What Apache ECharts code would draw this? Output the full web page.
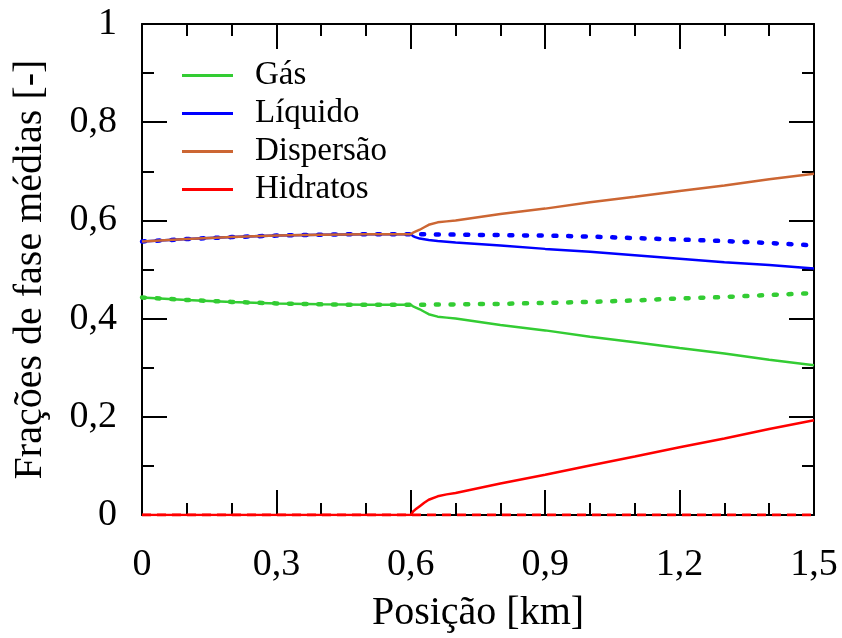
<!DOCTYPE html>
<html>
<head>
<meta charset="utf-8">
<script src="https://cdn.jsdelivr.net/npm/echarts@6/dist/echarts.min.js"></script>
<style>
html,body{margin:0;padding:0;background:#fff;}
#chart{width:842px;height:638px;}
</style>
</head>
<body>
<div id="chart"></div>
<script>
// Position along the line [km]
const posicao = [0, 0.1, 0.2, 0.3, 0.4, 0.5, 0.6, 0.605, 0.61, 0.62, 0.63, 0.64, 0.66, 0.68, 0.7, 0.8, 0.9, 1.0, 1.1, 1.2, 1.3, 1.4, 1.5];
// With hydrate formation (solid lines)
const gas       = [0.443, 0.438, 0.434, 0.431, 0.429, 0.428, 0.428, 0.425, 0.423, 0.419, 0.414, 0.409, 0.404, 0.402, 0.400, 0.387, 0.376, 0.363, 0.352, 0.340, 0.329, 0.316, 0.305];
const liquido   = [0.557, 0.562, 0.566, 0.569, 0.571, 0.572, 0.572, 0.568, 0.566, 0.563, 0.5615, 0.560, 0.558, 0.5565, 0.555, 0.549, 0.542, 0.536, 0.529, 0.522, 0.515, 0.509, 0.502];
const dispersao = [0.557, 0.562, 0.566, 0.569, 0.571, 0.572, 0.572, 0.575, 0.577, 0.581, 0.586, 0.591, 0.596, 0.598, 0.600, 0.613, 0.624, 0.637, 0.648, 0.660, 0.671, 0.684, 0.695];
const hidratos  = [0, 0, 0, 0, 0, 0, 0, 0.007, 0.011, 0.018, 0.025, 0.031, 0.038, 0.042, 0.045, 0.064, 0.082, 0.101, 0.119, 0.138, 0.156, 0.175, 0.193];
// Without hydrate formation (dotted lines)
const posicaoSem = [0, 0.1, 0.2, 0.3, 0.4, 0.5, 0.6, 0.7, 0.8, 0.9, 1.0, 1.1, 1.2, 1.3, 1.4, 1.5];
const gasSem     = [0.443, 0.438, 0.434, 0.431, 0.429, 0.428, 0.428, 0.429, 0.430, 0.432, 0.434, 0.437, 0.441, 0.444, 0.448, 0.452];
const liquidoSem = [0.557, 0.562, 0.566, 0.569, 0.571, 0.572, 0.572, 0.571, 0.570, 0.569, 0.567, 0.564, 0.561, 0.558, 0.554, 0.549];
const hidratosSem = [0, 0];
const posicaoHidSem = [0, 1.5];
// Axis ticks
const xTicks = {min: 0, max: 1.5, interval: 0.3};
const yTicks = {min: 0, max: 1, interval: 0.2};
const nomes = ['Gás', 'Líquido', 'Dispersão', 'Hidratos'];

const cores = {gas: '#33cc33', liq: '#0000ff', disp: '#cc6633', hid: '#ff0000'};
const FONT = 'Liberation Serif';
const pairs = (xs, ys) => xs.map((x, i) => [x, ys[i]]);
const fmt = v => String(Number(v.toFixed(2))).replace('.', ',');

function axisCommon(showLabel, isX) {
  return {
    type: 'value',
    axisLine: {show: true, onZero: false, lineStyle: {color: '#000', width: 2}},
    axisTick: {show: true, inside: true, length: 25, lineStyle: {color: '#000', width: 2}},
    minorTick: {show: true, splitNumber: isX ? 3 : 2, length: 12, lineStyle: {color: '#000', width: 2}},
    splitLine: {show: false},
    minorSplitLine: {show: false},
    axisLabel: {show: showLabel, formatter: fmt, color: '#000', fontFamily: FONT, fontSize: 38, margin: isX ? 31 : 25}
  };
}

const chart = echarts.init(document.getElementById('chart'), null, {renderer: 'canvas'});
const dotted = (w) => ({width: w, type: [3, 11.7], cap: 'round'});
chart.setOption({
  animation: false,
  backgroundColor: '#fff',
  textStyle: {fontFamily: FONT},
  grid: {left: 142, right: 28, top: 24, bottom: 118, containLabel: false},
  xAxis: [
    Object.assign(axisCommon(true, true), xTicks, {
      position: 'bottom', name: 'Posição [km]', nameLocation: 'middle', nameGap: 78,
      nameTextStyle: {fontFamily: FONT, fontSize: 40, color: '#000'}
    }),
    Object.assign(axisCommon(false, true), xTicks, {position: 'top'})
  ],
  yAxis: [
    Object.assign(axisCommon(true, false), yTicks, {
      position: 'left', name: 'Frações de fase médias [-]', nameLocation: 'middle', nameGap: 92,
      nameTextStyle: {fontFamily: FONT, fontSize: 40, color: '#000'}
    }),
    Object.assign(axisCommon(false, false), yTicks, {position: 'right'})
  ],
  legend: {
    data: nomes, orient: 'vertical', left: 177, top: 54,
    icon: 'rect', itemWidth: 51, itemHeight: 3, itemGap: 5,
    textStyle: {fontFamily: FONT, fontSize: 33, color: '#000', padding: [0, 0, 0, 17]}
  },
  series: [
    {name: 'Gás (sem hidratos)', type: 'line', symbol: 'none', color: cores.gas, lineStyle: dotted(4.5), data: pairs(posicaoSem, gasSem)},
    {name: 'Líquido (sem hidratos)', type: 'line', symbol: 'none', color: cores.liq, lineStyle: dotted(4.5), data: pairs(posicaoSem, liquidoSem)},
    {name: 'Gás', type: 'line', symbol: 'none', color: cores.gas, lineStyle: {width: 2.5}, data: pairs(posicao, gas)},
    {name: 'Líquido', type: 'line', symbol: 'none', color: cores.liq, lineStyle: {width: 2.5}, data: pairs(posicao, liquido)},
    {name: 'Dispersão', type: 'line', symbol: 'none', color: cores.disp, lineStyle: {width: 2.5}, data: pairs(posicao, dispersao)},
    {name: 'Hidratos', type: 'line', symbol: 'none', color: cores.hid, lineStyle: {width: 2.5}, data: pairs(posicao, hidratos)},
    {name: 'Hidratos (sem hidratos)', type: 'line', symbol: 'none', color: cores.hid, lineStyle: {width: 3, type: [9, 6]}, data: pairs(posicaoHidSem, hidratosSem)}
  ]
});
</script>
</body>
</html>
